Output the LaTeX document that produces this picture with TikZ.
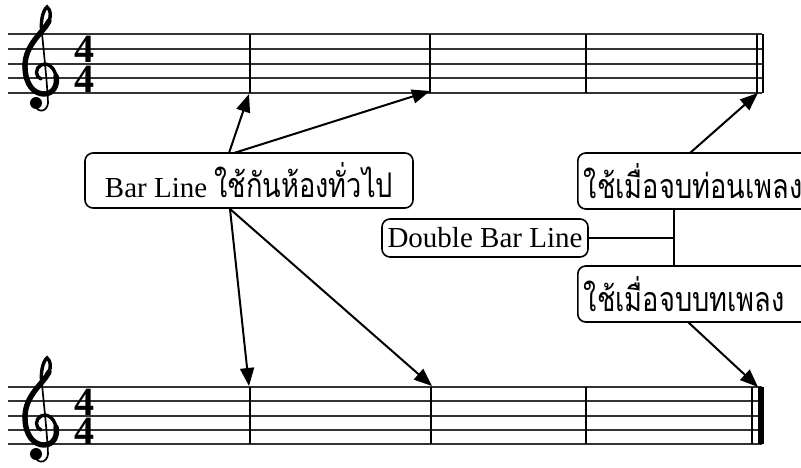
\documentclass[tikz,border=0pt]{standalone}
\usepackage{fontspec}
\setmainfont{Liberation Serif}
\newfontfamily\thaifont[Script=Thai,FakeStretch=0.8]{Loma}
\usetikzlibrary{arrows.meta}
\tikzset{
  staffline/.style={line width=1.4pt, draw=black!80},
  barline/.style={line width=1.8pt},
  thickbar/.style={line width=6pt},
  labelbox/.style={draw, line width=1.6pt, rounded corners=8pt, inner sep=0pt, font=\fontsize{29}{31}\selectfont},
  pointer/.style={line width=2pt, -{Triangle[length=18pt,width=14pt]}},
  joint/.style={line width=1.6pt},
  timesig/.style={font=\bfseries\fontsize{40}{40}\selectfont, inner sep=0pt},
  clefthin/.style={line width=1.7pt, line cap=round},
  clefmid/.style={line width=3.4pt, line cap=round},
  clefthick/.style={line width=5.4pt, line cap=round}
}
\newcommand{\thtxt}[1]{{\thaifont\fontsize{34}{36}\selectfont #1}}
\newcommand{\drawgclef}{%
  % stem and hook
  \draw[clefthin] (35,104) .. controls (36,113) and (47,113) .. (48,103)
        .. controls (47,80) and (44,55) .. (42,33);
  % top loop
  \draw[clefmid] (42,33) .. controls (40,22) and (43,10) .. (47,7)
        .. controls (51,10) and (51,16) .. (49,21);
  % thick diagonal down to the left side of the bowl
  \draw[clefthick] (49,21) .. controls (44,32) and (25,44) .. (25,66);
  % bowl and inner curl
  \draw[clefthick] (25,66) .. controls (25,86) and (35,94) .. (44,94)
        .. controls (54,94) and (58,84) .. (56,76);
  \draw[clefmid] (56,76) .. controls (54,66) and (46,62) .. (41,65)
        .. controls (35,68) and (35,77) .. (41,79);
  % dot
  \fill (36,103) circle (6);
}
\begin{document}
\begin{tikzpicture}[x=1pt,y=-1pt]
\useasboundingbox (0,0) rectangle (801,468);
% ---------- top staff ----------
\foreach \yy in {34,49,64,78,93} \draw[staffline] (8,\yy) -- (762,\yy);
\draw[barline] (250,34) -- (250,93);
\draw[barline] (430,34) -- (430,93);
\draw[barline] (586,34) -- (586,93);
\draw[line width=1.4pt] (757,34) -- (757,93);
\draw[line width=2.2pt] (763,34) -- (763,93);
\begin{scope}
  \drawgclef
\end{scope}
\node[timesig, anchor=base] (tsA1) at (84,63) {4};
\node[timesig, anchor=base] (tsA2) at (84,93) {4};
% ---------- bottom staff ----------
\foreach \yy in {387,401,416,430,444} \draw[staffline] (8,\yy) -- (762,\yy);
\draw[barline] (250,387) -- (250,444);
\draw[barline] (431,387) -- (431,444);
\draw[barline] (586,387) -- (586,444);
\draw[line width=1.4pt] (752,387) -- (752,444);
\draw[thickbar] (761,387) -- (761,444);
\begin{scope}[shift={(0,351)}]
  \drawgclef
\end{scope}
\node[timesig, anchor=base] (tsB1) at (84,415) {4};
\node[timesig, anchor=base] (tsB2) at (84,444) {4};
% ---------- targets ----------
\coordinate (t1) at (249,94);
\coordinate (t2) at (430,91);
\coordinate (t3) at (758,93);
\coordinate (b1) at (249,386);
\coordinate (b2) at (432,386);
\coordinate (b3) at (758,387);
% ---------- boxes ----------
\node[labelbox, minimum width=328pt, minimum height=55pt] (bar) at (249,180.5) {Bar Line \thtxt{ใช้กันห้องทั่วไป}};
\node[labelbox, minimum width=206pt, minimum height=38pt] (dbl) at (485,238) {Double Bar Line};
\node[labelbox, minimum height=56pt, anchor=west, inner xsep=6pt, text width=232pt, align=left] (endsec) at (577,181) {\thtxt{ใช้เมื่อจบท่อนเพลง}};
\node[labelbox, minimum height=56pt, anchor=west, inner xsep=6pt, text width=232pt, align=left] (endsong) at (577,294) {\thtxt{ใช้เมื่อจบบทเพลง}};
% ---------- connectors ----------
\coordinate (s1) at (229,153);
\coordinate (s2) at (234,153);
\coordinate (s3) at (230,209);
\coordinate (s4) at (690,153);
\coordinate (s5) at (688,322);
\coordinate (jn) at (674,238);
\draw[pointer] (s1) -- (t1);
\draw[pointer] (s2) -- (t2);
\draw[pointer] (s3) -- (b1);
\draw[pointer] (s3) -- (b2);
\draw[pointer] (s4) -- (t3);
\draw[pointer] (s5) -- (b3);
\draw[joint] (dbl.east) -- (jn);
\draw[joint] (jn |- endsec.south) -- (jn |- endsong.north);
\end{tikzpicture}
\end{document}
